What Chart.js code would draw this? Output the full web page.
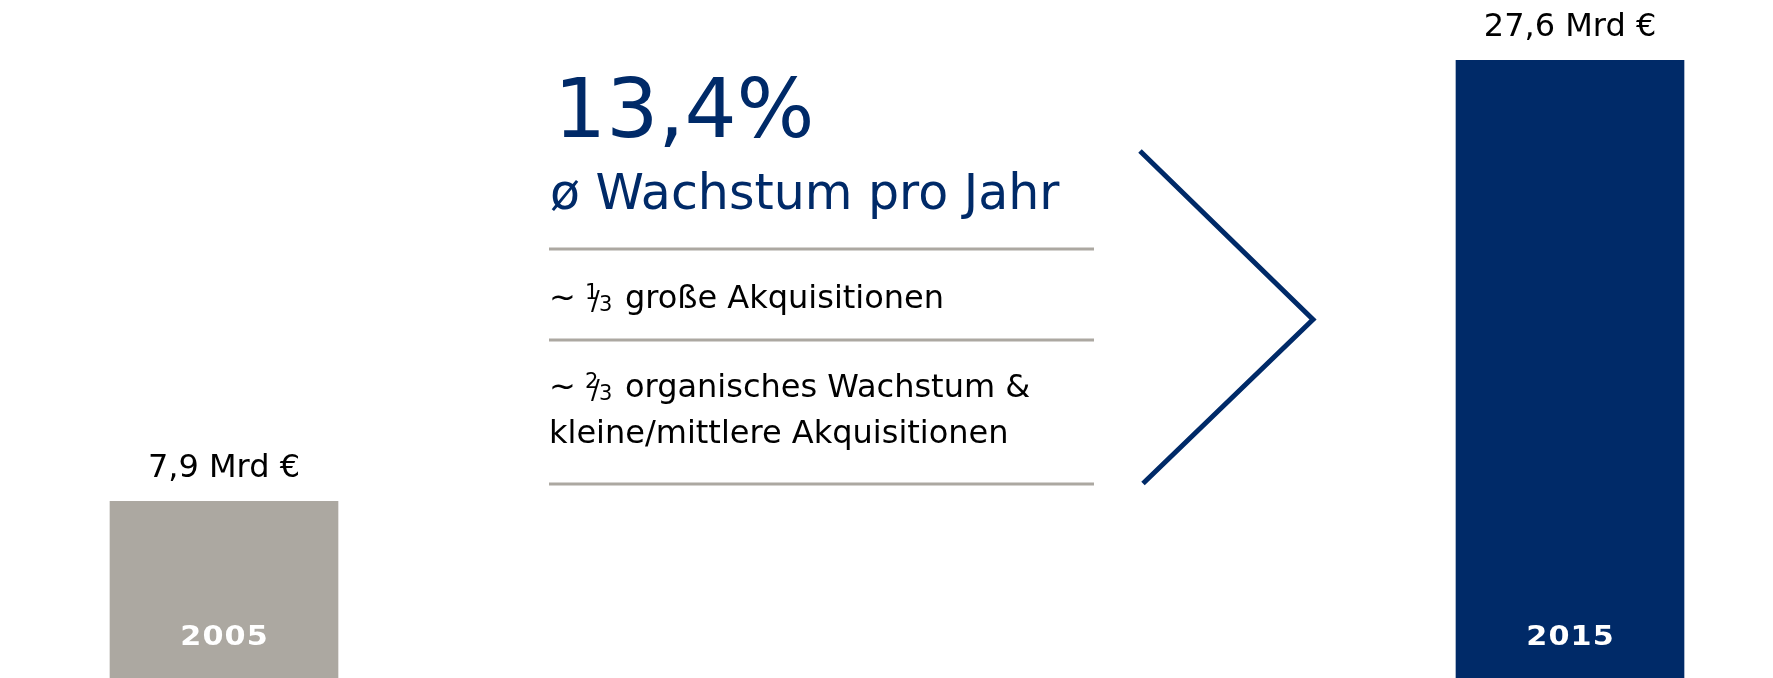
<!DOCTYPE html>
<html lang="de">
  <head>
    <meta charset="UTF-8" />
    <title>Umsatzwachstum 2005 - 2015</title>
    <script src="https://cdn.jsdelivr.net/npm/chart.js"></script>
    <style>
      html, body { margin: 0; padding: 0; background: #fff; }
      .chart-box { width: 1773px; height: 678px; position: relative; }
    </style>
  </head>
  <body>
    <div class="chart-box">
      <canvas id="growthChart"></canvas>
    </div>

    <script>
      // Daten
      const years = ["2005", "2015"];
      const revenue = [7.9, 27.6];
      const valueLabels = ["7,9 Mrd €", "27,6 Mrd €"];
      const growthRate = "13,4%";
      const growthCaption = "ø Wachstum pro Jahr";
      const driverShares = [["1", "3"], ["2", "3"]];
      const driverTexts = [
        ["große Akquisitionen"],
        ["organisches Wachstum &", "kleine/mittlere Akquisitionen"],
      ];

      const navy = "#002a68";
      const grey = "#aca8a1";
      const font = "'DejaVu Sans', Verdana, sans-serif";

      // "~ 1/3 text" mit kleinem Bruch
      function drawDriver(ctx, x, y, share, text) {
        ctx.font = "32px " + font;
        ctx.fillText("~", x, y);
        const fx = x + ctx.measureText("~ ").width;
        ctx.font = "21px " + font;
        ctx.fillText(share[0], fx - 1, y - 9);
        ctx.font = "26px " + font;
        ctx.fillText("/", fx + 5, y + 2);
        ctx.font = "21px " + font;
        ctx.fillText(share[1], fx + 13, y + 3);
        ctx.font = "32px " + font;
        ctx.fillText(text, fx + 39, y);
      }

      // Beschriftungen, Textblock und Pfeil
      const annotations = {
        id: "annotations",
        afterDatasetsDraw(chart) {
          const ctx = chart.ctx;
          const meta = chart.getDatasetMeta(0);
          const area = chart.chartArea;
          ctx.save();

          // Werte ueber den Balken, Jahre in den Balken
          meta.data.forEach((bar, i) => {
            ctx.textAlign = "center";
            ctx.textBaseline = "alphabetic";
            ctx.fillStyle = "#000";
            ctx.font = "32px " + font;
            ctx.fillText(valueLabels[i], bar.x, bar.y - 24);

            ctx.save();
            ctx.translate(bar.x, area.bottom - 33);
            ctx.scale(1.12, 1);
            ctx.fillStyle = "#fff";
            ctx.font = "bold 27px " + font;
            ctx.letterSpacing = "1px";
            ctx.fillText(years[i], 0.5, 0);
            ctx.restore();
          });

          // Textblock in der Mitte
          const left = 550;
          ctx.textAlign = "left";
          ctx.fillStyle = navy;
          ctx.font = "82px " + font;
          ctx.fillText(growthRate, left + 4, 137);
          ctx.font = "49px " + font;
          ctx.fillText(growthCaption, left, 209);

          ctx.fillStyle = "#000";
          const baselines = [[308], [397, 443]];
          driverTexts.forEach((lines, g) => {
            lines.forEach((t, k) => {
              if (k === 0) {
                drawDriver(ctx, left - 1, baselines[g][k], driverShares[g], t);
              } else {
                ctx.font = "32px " + font;
                ctx.fillText(t, left - 1, baselines[g][k]);
              }
            });
          });

          ctx.strokeStyle = grey;
          ctx.lineWidth = 3;
          [249, 340, 484].forEach((y) => {
            ctx.beginPath();
            ctx.moveTo(549, y);
            ctx.lineTo(1094, y);
            ctx.stroke();
          });

          // Pfeil
          ctx.strokeStyle = navy;
          ctx.lineWidth = 5;
          ctx.lineJoin = "miter";
          ctx.beginPath();
          ctx.moveTo(1140, 151);
          ctx.lineTo(1313, 319.5);
          ctx.lineTo(1143, 483.5);
          ctx.stroke();

          ctx.restore();
        },
      };

      const chart = new Chart(document.getElementById("growthChart"), {
        type: "bar",
        data: {
          labels: years,
          datasets: [
            {
              data: revenue,
              backgroundColor: [grey, navy],
              barThickness: 228,
              borderWidth: 0,
              clip: false,
            },
          ],
        },
        options: {
          responsive: true,
          maintainAspectRatio: false,
          animation: false,
          layout: { padding: { left: 224, right: 203, top: 0, bottom: 0 } },
          plugins: {
            legend: { display: false },
            tooltip: { enabled: false },
          },
          scales: {
            x: { display: false, offset: false },
            y: { display: false, min: 0, max: 30.3 },
          },
        },
        plugins: [annotations],
      });
    </script>
  </body>
</html>
